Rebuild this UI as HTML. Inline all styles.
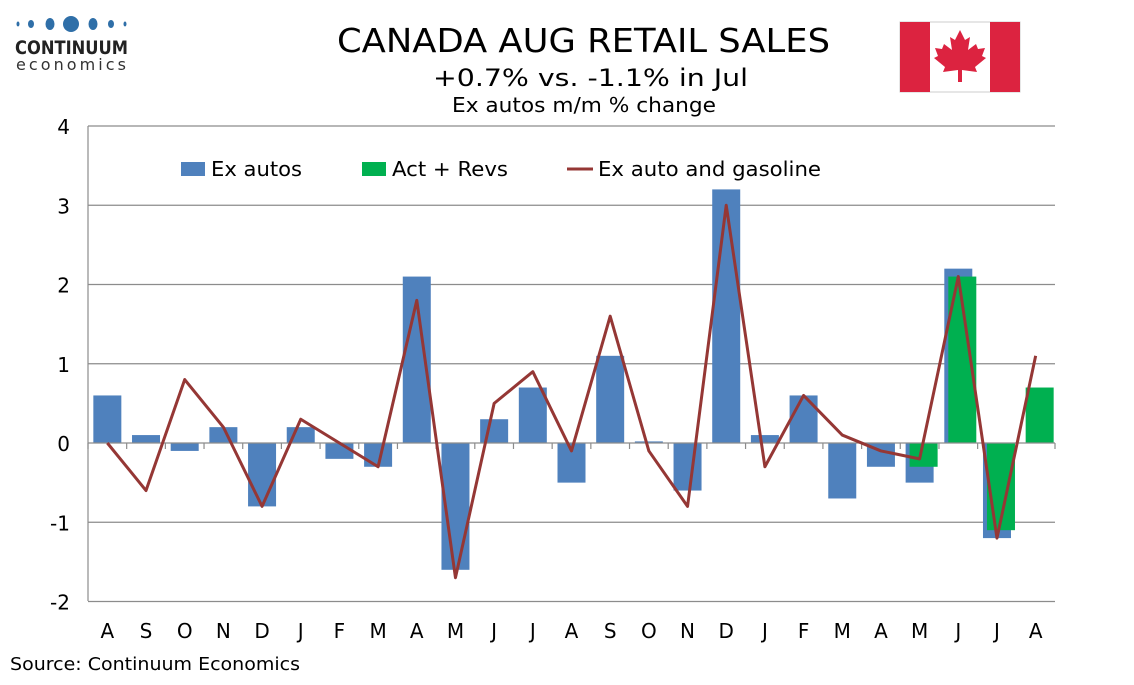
<!DOCTYPE html>
<html><head><meta charset="utf-8"><style>
body{margin:0;background:#fff;width:1134px;height:680px;overflow:hidden}
svg text{font-family:"DejaVu Sans","Liberation Sans",sans-serif}
</style></head><body>
<svg id="s" width="1134" height="680" xmlns="http://www.w3.org/2000/svg">
<rect width="1134" height="680" fill="#fff"/>
<g fill="#2f6fa8">
<ellipse cx="18" cy="24" rx="1.5" ry="2.5"/><ellipse cx="31" cy="24" rx="3" ry="4"/><ellipse cx="50" cy="24" rx="4.5" ry="6"/>
<circle cx="71" cy="24" r="8"/><ellipse cx="93" cy="24" rx="4.5" ry="6"/><ellipse cx="111" cy="24" rx="3" ry="4"/><ellipse cx="125" cy="24" rx="1.5" ry="2.5"/>
</g>
<text x="15" y="54" font-size="19" font-weight="bold" fill="#222" font-family="Liberation Sans" textLength="113" lengthAdjust="spacingAndGlyphs">CONTINUUM</text>
<text x="16" y="70" font-size="16" fill="#333" textLength="110">economics</text>
<text x="337" y="52" font-size="33" fill="#000" textLength="493" lengthAdjust="spacingAndGlyphs">CANADA AUG RETAIL SALES</text>
<text x="433" y="86" font-size="24" fill="#000" textLength="315" lengthAdjust="spacingAndGlyphs">+0.7% vs. -1.1% in Jul</text>
<text x="452" y="112" font-size="20" fill="#000" textLength="264" lengthAdjust="spacingAndGlyphs">Ex autos m/m % change</text>
<rect x="900" y="22" width="120" height="70" fill="#fff" stroke="#ccc"/>
<rect x="900" y="22" width="30" height="70" fill="#dc2340"/>
<rect x="990" y="22" width="30" height="70" fill="#dc2340"/>
<path d="M960 30 L965 40 L970 37 L968 50 L976 44 L978 49 L985 48 L982 56 L986 58 L975 67 L977 72 L962 70 L962 82 L958 82 L958 70 L943 72 L945 67 L934 58 L938 56 L935 48 L942 49 L944 44 L952 50 L950 37 L955 40 Z" fill="#dc2340"/>
<g id="g"></g>
<text x="10" y="670" font-size="18" fill="#000" textLength="290" lengthAdjust="spacingAndGlyphs">Source: Continuum Economics</text>
</svg>
<script>
const g=document.getElementById('g');let h='';
const y=v=>443-v*79.25, cw=38.68, c=i=>88+cw*(i+0.5);
[4,3,2,1,-1,-2].forEach(v=>{h+=`<line x1="88" x2="1055" y1="${y(v)}" y2="${y(v)}" stroke="#8c8c8c" stroke-width="1.2"/>`;});
[4,3,2,1,0,-1,-2].forEach(v=>{h+=`<text x="70" y="${y(v)+8}" font-size="20" text-anchor="end">${v}</text>`;});
h+=`<line x1="88" x2="88" y1="126" y2="601" stroke="#8c8c8c" stroke-width="1.2"/>`;
const labs="A S O N D J F M A M J J A S O N D J F M A M J J A".split(' ');
const blue=[0.6,0.1,-0.1,0.2,-0.8,0.2,-0.2,-0.3,2.1,-1.6,0.3,0.7,-0.5,1.1,0.02,-0.6,3.2,0.1,0.6,-0.7,-0.3,-0.5,2.2,-1.2];
blue.forEach((v,i)=>{const a=y(Math.max(v,0)),b=y(Math.min(v,0));h+=`<rect x="${c(i)-14}" y="${a}" width="28" height="${Math.max(b-a,1)}" fill="#4f81bd"/>`;});
const green={21:-0.3,22:2.1,23:-1.1,24:0.7};
for(const k in green){const v=green[k],i=+k,a=y(Math.max(v,0)),b=y(Math.min(v,0));h+=`<rect x="${c(i)-10}" y="${a}" width="28" height="${b-a}" fill="#00b050"/>`;}
h+=`<line x1="88" x2="1055" y1="443" y2="443" stroke="#8c8c8c" stroke-width="1.2"/>`;
for(let k=0;k<=25;k++){h+=`<line x1="${88+cw*k}" x2="${88+cw*k}" y1="443" y2="449" stroke="#8c8c8c" stroke-width="1.2"/>`;}
labs.forEach((l,i)=>{h+=`<text x="${c(i)}" y="638" font-size="20" text-anchor="middle">${l}</text>`;});
const line=[0,-0.6,0.8,0.2,-0.8,0.3,0,-0.3,1.8,-1.7,0.5,0.9,-0.1,1.6,-0.1,-0.8,3.0,-0.3,0.6,0.1,-0.1,-0.2,2.1,-1.2,1.1];
h+=`<polyline fill="none" stroke="#953735" stroke-width="3" stroke-linejoin="round" points="${line.map((v,i)=>c(i)+','+y(v)).join(' ')}"/>`;
h+=`<rect x="181" y="162" width="24" height="14" fill="#4f81bd"/><text x="211" y="176" font-size="20" textLength="91" lengthAdjust="spacingAndGlyphs">Ex autos</text>`;
h+=`<rect x="362" y="162" width="24" height="14" fill="#00b050"/><text x="392" y="176" font-size="20" textLength="116" lengthAdjust="spacingAndGlyphs">Act + Revs</text>`;
h+=`<line x1="567" x2="593" y1="169" y2="169" stroke="#953735" stroke-width="3"/><text x="598" y="176" font-size="20" textLength="223" lengthAdjust="spacingAndGlyphs">Ex auto and gasoline</text>`;
g.innerHTML=h;
</script>
</body></html>
